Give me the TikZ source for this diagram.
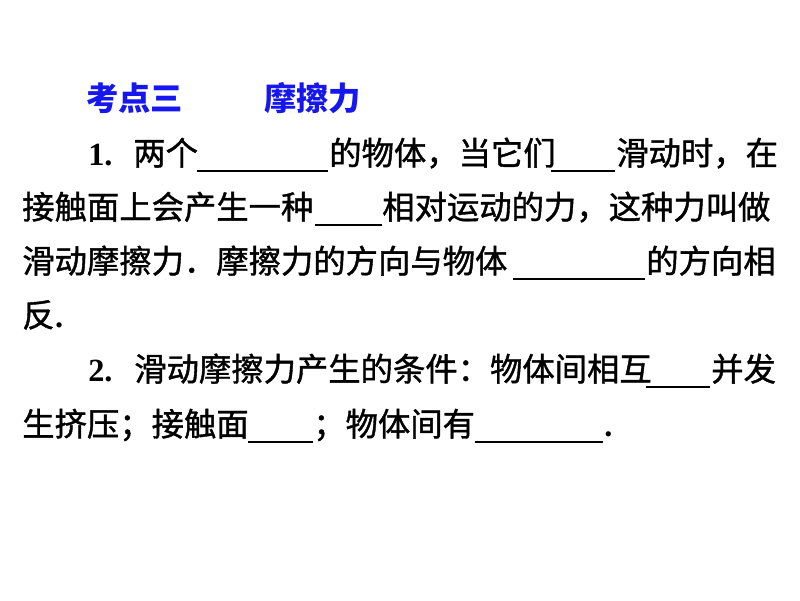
\documentclass[tikz,border=0pt]{standalone}
\usepackage{fontspec}
\newfontfamily\cjk{Noto Sans CJK SC}
\newfontfamily\cjkbody{Noto Sans CJK SC}[FakeBold=1.2]
\newfontfamily\serifnum{Liberation Serif}[BoldFont={Liberation Serif Bold}]
\definecolor{titleblue}{RGB}{22,22,238}
\tikzset{
  txt/.style={anchor=base west,inner sep=0pt,font=\cjkbody\fontsize{23}{27}\selectfont},
  ttl/.style={anchor=base west,inner sep=0pt,font=\cjk\bfseries\fontsize{23}{27}\selectfont,text=titleblue},
  num/.style={anchor=base west,inner sep=0pt,font=\serifnum\bfseries\fontsize{23}{27}\selectfont},
  blank/.style={line width=1.3pt}
}
\begin{document}
\begin{tikzpicture}[x=0.025cm,y=-0.025cm]
\fill[white] (0,0) rectangle (800,600);
\useasboundingbox (0,0) rectangle (800,600);

\node[ttl] (kd) at (86,110) {考点三};
\node[ttl] (mc) at (264,110) {摩擦力};

% 1.
\node[num] (n1) at (88,165) {1.};
\node[txt] (a1) at (133,165) {两个};
\draw[blank] (197,171) -- (328,171);
\node[txt] (b1) at (329,165) {的物体，当它们};
\draw[blank] (551,171) -- (615,171);
\node[txt] (c1) at (616,165) {滑动时，在};

\node[txt] (d2) at (22,219) {接触面上会产生一种};
\draw[blank] (315,225) -- (382,225);
\node[txt] (e2) at (382,219) {相对运动的力，这种力叫做};

\node[txt] (f3) at (22,273) {滑动摩擦力．摩擦力的方向与物体};
\draw[blank] (513,279) -- (645,279);
\node[txt] (g3) at (646,273) {的方向相};

\node[txt] (h4) at (22,327) {反};
\node[num] (h4d) at (h4.base east) {.};

% 2.
\node[num] (n2) at (88,381) {2.};
\node[txt] (i5) at (134,381) {滑动摩擦力产生的条件：物体间相互};
\draw[blank] (646,387) -- (710,387);
\node[txt] (j5) at (711,381) {并发};

\node[txt] (k6) at (22,436) {生挤压；接触面};
\draw[blank] (248,442) -- (313,442);
\node[txt] (l6) at (313,436) {；物体间有};
\draw[blank] (475,442) -- (603,442);
\node[num] (l6d) at (604,436) {.};
\end{tikzpicture}
\end{document}
